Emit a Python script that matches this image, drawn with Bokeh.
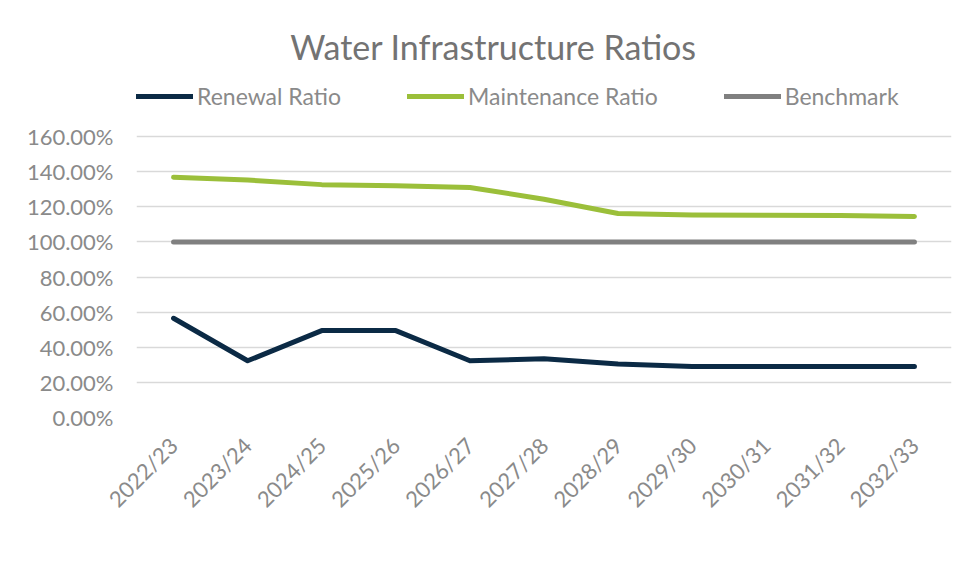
from bokeh.plotting import figure
from bokeh.models import Range1d, FactorRange, Legend, LegendItem, Label, NumeralTickFormatter, FixedTicker
from bokeh.embed import file_html
from bokeh.resources import INLINE
from math import pi

years = ["2022/23", "2023/24", "2024/25", "2025/26", "2026/27", "2027/28",
         "2028/29", "2029/30", "2030/31", "2031/32", "2032/33"]
renewal = [0.565, 0.323, 0.495, 0.495, 0.323, 0.335, 0.305, 0.291, 0.291, 0.291, 0.291]
maintenance = [1.368, 1.352, 1.326, 1.320, 1.310, 1.243, 1.162, 1.153, 1.152, 1.150, 1.145]
benchmark = [1.0] * 11
y_ticks = [0, 0.2, 0.4, 0.6, 0.8, 1.0, 1.2, 1.4, 1.6]

FONT = "Lato"
GRAY = "#8a8a8a"

# frame extends above the 160% line to hold the title and legend
p = figure(x_range=FactorRange(*years), y_range=Range1d(0, 2.2093),
           width=960, height=566, frame_width=815, frame_height=388,
           min_border_left=136, min_border_top=29, min_border_right=9, min_border_bottom=149,
           output_backend="svg", toolbar_location=None)
p.outline_line_color = None
p.background_fill_color = "white"
p.border_fill_color = "white"

r1 = p.line(years, renewal, line_color="#0b2a45", line_width=5, line_cap="round", line_join="round")
r2 = p.line(years, maintenance, line_color="#9bbf3a", line_width=5, line_cap="round", line_join="round")
r3 = p.line(years, benchmark, line_color="#808080", line_width=5, line_cap="round", line_join="round")

p.yaxis.ticker = FixedTicker(ticks=y_ticks)
p.yaxis.formatter = NumeralTickFormatter(format="0.00%")
for ax in (p.xaxis[0], p.yaxis[0]):
    ax.axis_line_color = None
    ax.major_tick_line_color = None
    ax.minor_tick_line_color = None
    ax.major_label_text_font = FONT
    ax.major_label_text_font_size = "22px"
    ax.major_label_text_color = GRAY
p.xaxis.major_label_orientation = pi / 4
p.xaxis.major_label_standoff = 18
p.yaxis.major_label_standoff = 17
p.xgrid.grid_line_color = None
p.ygrid.grid_line_color = "#d9d9d9"
p.ygrid.grid_line_width = 1.5

title = Label(x=357, y=371, x_units="screen", y_units="screen", text="Water Infrastructure Ratios",
              text_font=FONT, text_font_size="34px", text_color="#737373", text_align="center",
              text_baseline="alphabetic")
p.add_layout(title)

legend = Legend(items=[LegendItem(label="Renewal Ratio", renderers=[r1]),
                       LegendItem(label="Maintenance Ratio", renderers=[r2]),
                       LegendItem(label="Benchmark", renderers=[r3])],
                orientation="horizontal", location=(0, 307),
                glyph_width=57, glyph_height=22, label_standoff=4, spacing=66,
                padding=0, margin=0, label_height=22,
                label_text_font=FONT, label_text_font_size="23px", label_text_color=GRAY,
                background_fill_alpha=0, border_line_color=None)
p.add_layout(legend, "center")

open("out.html", "w").write(file_html(p, INLINE))
